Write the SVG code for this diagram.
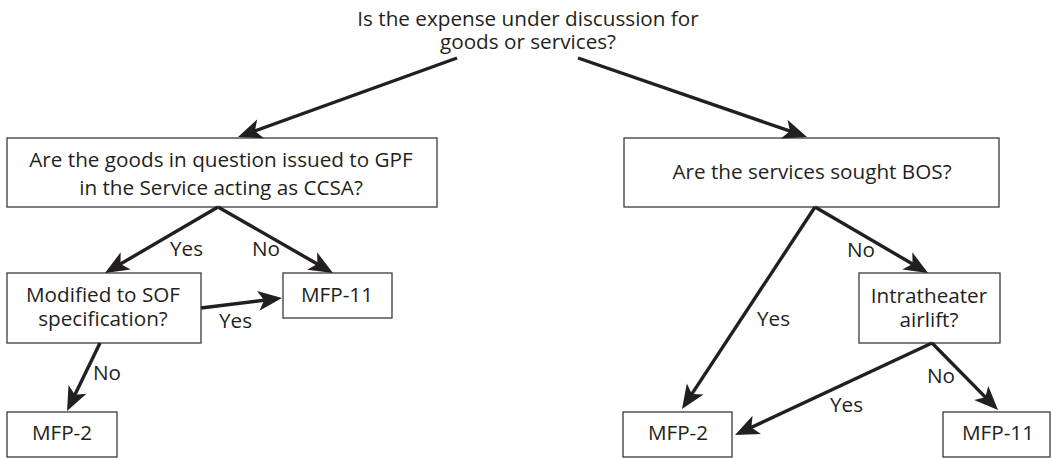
<svg xmlns="http://www.w3.org/2000/svg" width="1051" height="458" viewBox="0 0 1051 458">
<style>
.box{fill:#fff;stroke:#3a3a3a;stroke-width:1.3}
.t{font-family:"Open Sans","Noto Sans","Liberation Sans",sans-serif;font-size:20.7px;fill:#231f20;text-anchor:middle}
.lbl{font-family:"Open Sans","Noto Sans","Liberation Sans",sans-serif;font-size:20.7px;fill:#231f20}
.c{stroke:#231f20;stroke-width:3.4;fill:none;marker-end:url(#ah)}
</style>
<defs>
<marker id="ah" viewBox="-16 -11 27 22" refX="0" refY="0" markerWidth="27" markerHeight="22" markerUnits="userSpaceOnUse" orient="auto">
<path d="M10,0 L-14,-10 L-8,0 L-14,10 Z" fill="#231f20"/>
</marker>
</defs>
<g id="q-top">
<text class="t" x="528" y="26">Is the expense under discussion for</text>
<text class="t" x="528" y="49">goods or services?</text>
</g>
<g id="q-goods">
<rect class="box" x="7" y="138" width="430" height="69"/>
<text class="t" x="221" y="167">Are the goods in question issued to GPF</text>
<text class="t" x="221" y="195">in the Service acting as CCSA?</text>
</g>
<g id="q-services">
<rect class="box" x="624" y="138" width="375" height="69"/>
<text class="t" x="812" y="179">Are the services sought BOS?</text>
</g>
<g id="q-sof">
<rect class="box" x="7" y="273" width="194" height="70"/>
<text class="t" x="103" y="302">Modified to SOF</text>
<text class="t" x="103" y="326">specification?</text>
</g>
<g id="mfp11-left">
<rect class="box" x="283" y="273" width="109" height="45"/>
<text class="t" x="337" y="302">MFP-11</text>
</g>
<g id="mfp2-left">
<rect class="box" x="7" y="412" width="110" height="45"/>
<text class="t" x="62" y="440">MFP-2</text>
</g>
<g id="q-airlift">
<rect class="box" x="859" y="273" width="141" height="70"/>
<text class="t" x="929" y="303">Intratheater</text>
<text class="t" x="929" y="327">airlift?</text>
</g>
<g id="mfp2-right">
<rect class="box" x="623" y="412" width="109" height="45"/>
<text class="t" x="678" y="440">MFP-2</text>
</g>
<g id="mfp11-right">
<rect class="box" x="943" y="412" width="107" height="45"/>
<text class="t" x="998" y="440">MFP-11</text>
</g>
<g id="connectors">
<line class="c" x1="457" y1="58" x2="247.4" y2="133.6"/>
<line class="c" x1="578" y1="58" x2="797.5" y2="133.7"/>
<line class="c" x1="218" y1="207" x2="113.6" y2="268"/>
<line class="c" x1="218" y1="207" x2="324.3" y2="268"/>
<line class="c" x1="201" y1="308" x2="272.1" y2="299.2"/>
<line class="c" x1="100" y1="343" x2="71.4" y2="402"/>
<line class="c" x1="815" y1="207" x2="919.4" y2="268"/>
<line class="c" x1="815" y1="207" x2="687.5" y2="400.6"/>
<line class="c" x1="932" y1="343" x2="744.1" y2="430.8"/>
<line class="c" x1="932" y1="343" x2="991" y2="402.9"/>
<text class="lbl" x="170" y="256">Yes</text>
<text class="lbl" x="252" y="256">No</text>
<text class="lbl" x="219" y="328">Yes</text>
<text class="lbl" x="93" y="380">No</text>
<text class="lbl" x="847" y="257">No</text>
<text class="lbl" x="757" y="326">Yes</text>
<text class="lbl" x="830" y="412">Yes</text>
<text class="lbl" x="927" y="383">No</text>
</g>
</svg>
